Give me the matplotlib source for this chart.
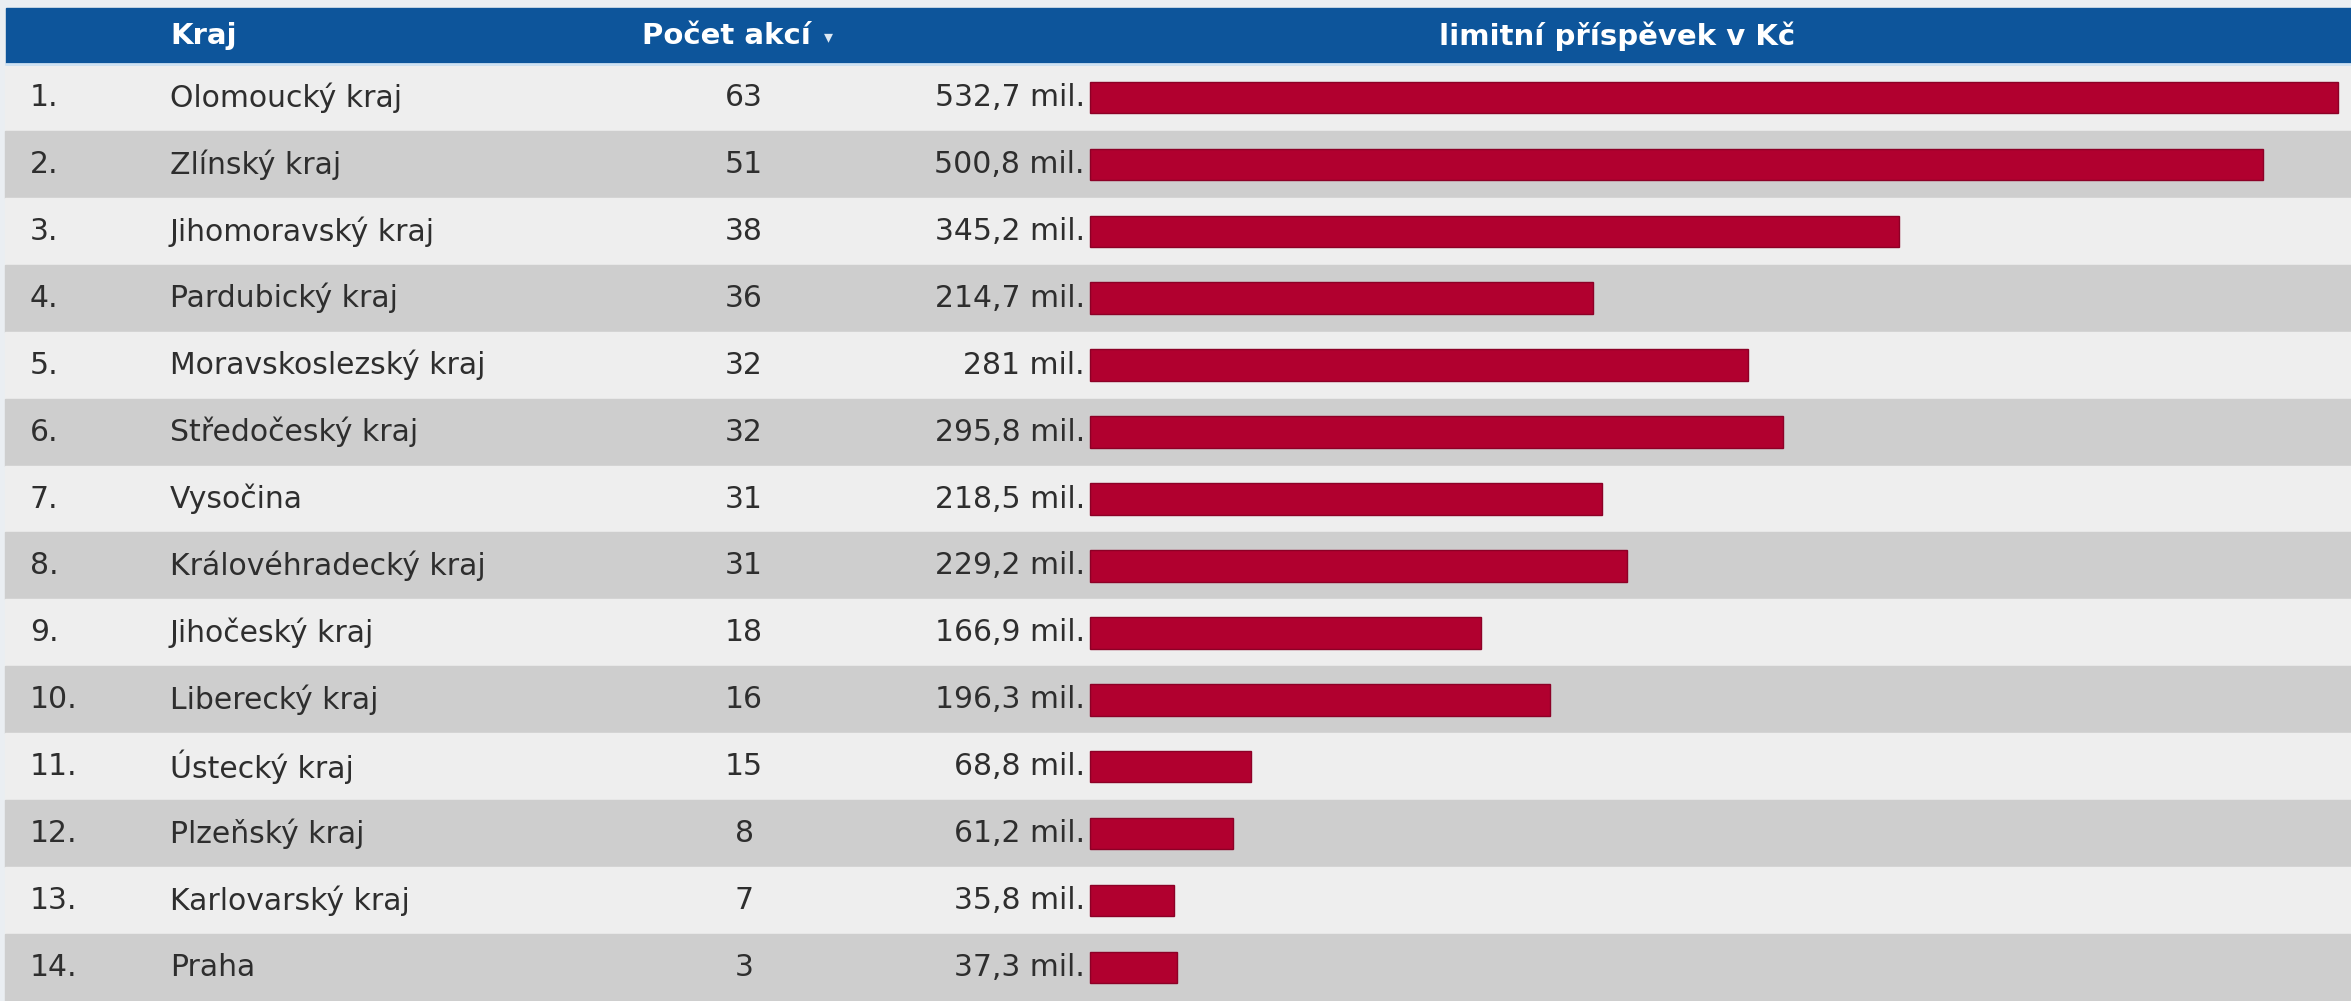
import matplotlib
matplotlib.use("Agg")
import matplotlib.pyplot as plt
import matplotlib.transforms as mtransforms

kraje = ["Olomoucký kraj", "Zlínský kraj", "Jihomoravský kraj", "Pardubický kraj",
         "Moravskoslezský kraj", "Středočeský kraj", "Vysočina", "Královéhradecký kraj",
         "Jihočeský kraj", "Liberecký kraj", "Ústecký kraj", "Plzeňský kraj",
         "Karlovarský kraj", "Praha"]
pocet_akci = [63, 51, 38, 36, 32, 32, 31, 31, 18, 16, 15, 8, 7, 3]
prispevek = [532.7, 500.8, 345.2, 214.7, 281.0, 295.8, 218.5, 229.2, 166.9, 196.3,
             68.8, 61.2, 35.8, 37.3]

W, H = 2351, 1001
blue = "#0d559b"
red = "#b1002f"
txt = "#2e2e2e"
fs = 21.5
hfs = 21

fig = plt.figure(figsize=(W / 100, H / 100), dpi=100)
fig.patch.set_facecolor("#eaeef2")
ax = fig.add_axes([0, 0, 1, 1])
ax.set_facecolor("#eaeef2")

# bar zero at x=1090 px, longest bar ends at 2338 px
px_per_unit = (2338 - 1090) / max(prispevek)
ax.set_xlim(-1090 / px_per_unit, (W - 1090) / px_per_unit)
row_px = 67
ax.set_ylim(len(kraje) - 0.5, -0.5 - 56 / row_px - 8 / row_px)
ax.axis("off")

trans = mtransforms.blended_transform_factory(ax.transAxes, ax.transData)

# header band
ax.axhspan(-0.5 - 56 / row_px, -0.5, xmin=6 / W, xmax=1, color=blue, zorder=1)
ax.axhline(-0.5, xmin=6 / W, color="#cfe2f3", lw=2, zorder=2)
hy = -0.5 - 28 / row_px
ax.text(170 / W, hy, "Kraj", transform=trans, color="white", fontsize=hfs,
        fontweight="bold", va="center", ha="left", zorder=3)
ax.text(642 / W, hy, "Počet akcí", transform=trans, color="white", fontsize=hfs,
        fontweight="bold", va="center", ha="left", zorder=3)
ax.text(828 / W, hy + 0.02, "\u25be", transform=trans, color="#dde8f3", fontsize=13,
        va="center", ha="center", zorder=3)
ax.text(1617 / W, hy, "limitní příspěvek v Kč", transform=trans, color="white",
        fontsize=hfs, fontweight="bold", va="center", ha="center", zorder=3)

# row stripes
for i in range(len(kraje)):
    ax.axhspan(i - 0.5, i + 0.5, xmin=5 / W, xmax=1,
               color="#eeeeee" if i % 2 == 0 else "#cecece", zorder=0)

ax.barh(range(len(kraje)), prispevek, height=0.47, left=0, color=red,
        edgecolor="#8c0026", linewidth=1, zorder=2)

for i, (k, n, v) in enumerate(zip(kraje, pocet_akci, prispevek)):
    ax.text(30 / W, i, f"{i + 1}.", transform=trans, color=txt, fontsize=fs,
            va="center", ha="left")
    ax.text(170 / W, i, k, transform=trans, color=txt, fontsize=fs,
            va="center", ha="left")
    ax.text(744 / W, i, str(n), transform=trans, color=txt, fontsize=fs,
            va="center", ha="center")
    lab = f"{v:g}".replace(".", ",") + " mil."
    ax.text(1085 / W, i, lab, transform=trans, color=txt, fontsize=fs,
            va="center", ha="right")

fig.savefig("out.png", dpi=100, facecolor=fig.get_facecolor())
